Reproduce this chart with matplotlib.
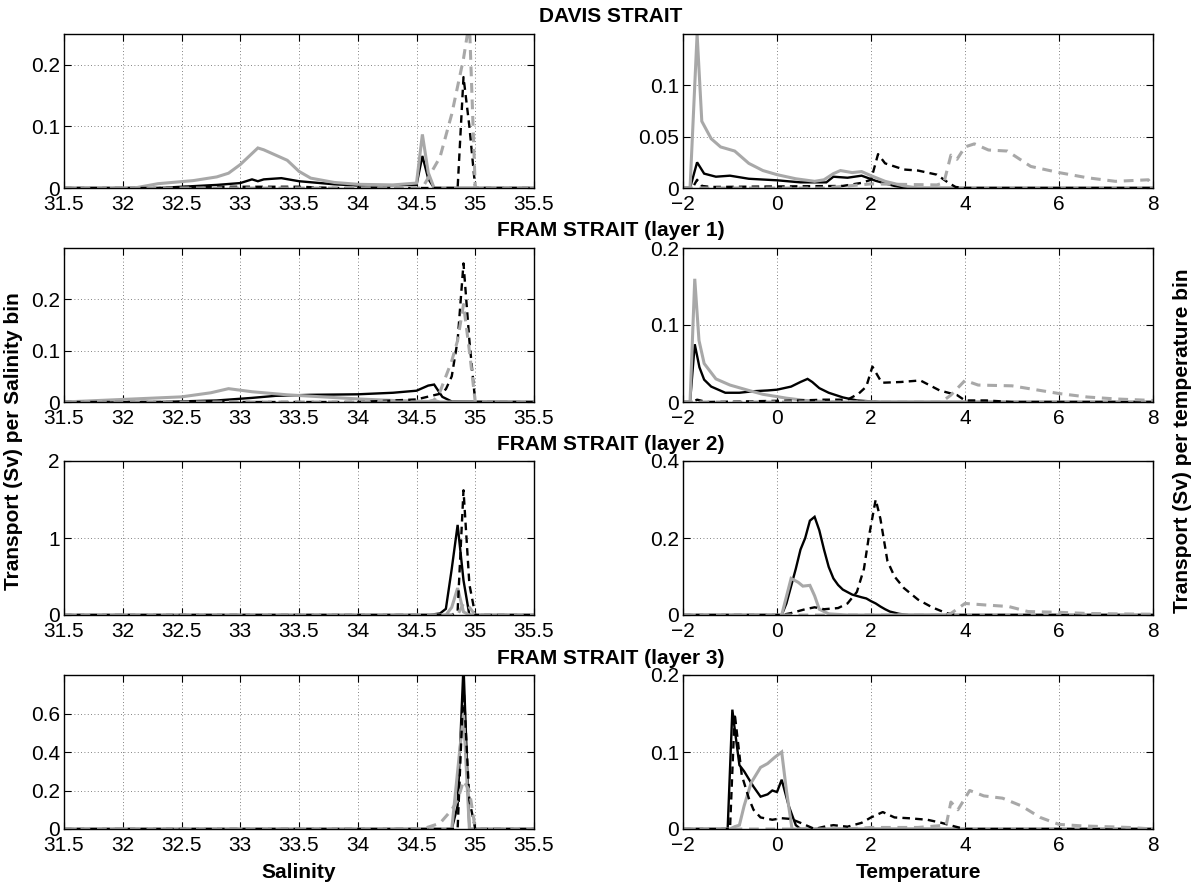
import numpy as np
import matplotlib.pyplot as plt

# -------------------------------------------------------------
#  DATA  -- each series is ([x], [y])
#  k = black solid, g = grey solid, kd = black dashed, gd = grey dashed
# -------------------------------------------------------------

# DAVIS STRAIT, salinity
davis_sal_k = ([31.5, 32.3, 32.5, 32.8, 33.0, 33.1, 33.15, 33.2, 33.35, 33.5, 33.8, 34.0, 34.5, 34.55, 34.6, 34.65, 35.5],
               [0, 0, 0.002, 0.005, 0.008, 0.014, 0.011, 0.014, 0.016, 0.011, 0.006, 0.004, 0.005, 0.052, 0.015, 0, 0])
davis_sal_g = ([31.5, 32.1, 32.3, 32.6, 32.8, 32.9, 33.0, 33.15, 33.2, 33.4, 33.5, 33.6, 33.8, 34.0, 34.3, 34.5, 34.55, 34.6, 34.65, 35.5],
               [0, 0, 0.007, 0.012, 0.018, 0.024, 0.038, 0.065, 0.062, 0.045, 0.027, 0.016, 0.009, 0.006, 0.005, 0.008, 0.087, 0.025, 0, 0])
davis_sal_kd = ([31.5, 32.3, 32.6, 33.5, 33.8, 34.85, 34.9, 34.95, 35.0, 35.5],
                [0, 0, 0.002, 0.002, 0, 0, 0.18, 0.1, 0, 0])
davis_sal_gd = ([31.5, 34.55, 34.7, 34.8, 34.9, 34.95, 35.0, 35.5],
                [0, 0, 0.05, 0.12, 0.21, 0.27, 0, 0])

# DAVIS STRAIT, temperature
davis_tmp_k = ([-2, -1.85, -1.7, -1.55, -1.3, -1.0, -0.6, 0, 0.5, 1.05, 1.2, 1.5, 1.8, 2.1, 2.5, 2.8, 8],
               [0, 0, 0.025, 0.014, 0.011, 0.012, 0.009, 0.0075, 0.0055, 0.0055, 0.011, 0.01, 0.012, 0.007, 0.002, 0, 0])
davis_tmp_g = ([-2, -1.85, -1.7, -1.6, -1.4, -1.2, -0.9, -0.6, -0.3, 0, 0.4, 0.8, 1.0, 1.2, 1.35, 1.6, 1.8, 2.0, 2.3, 2.7, 3.0, 8],
               [0, 0, 0.15, 0.065, 0.048, 0.04, 0.036, 0.024, 0.017, 0.013, 0.009, 0.0065, 0.008, 0.014, 0.017, 0.015, 0.016, 0.012, 0.0065, 0.002, 0, 0])
davis_tmp_kd = ([-2, -1.8, -1.7, -1.6, -1.4, 1.4, 1.8, 2.0, 2.15, 2.3, 2.7, 3.0, 3.4, 3.65, 3.8, 4.0, 8],
                [0, 0, 0.008, 0.002, 0.001, 0.002, 0.005, 0.008, 0.033, 0.024, 0.018, 0.017, 0.013, 0.005, 0.001, 0, 0])
davis_tmp_gd = ([-2, 1.0, 2.0, 3.4, 3.55, 3.7, 3.83, 4.0, 4.2, 4.5, 4.9, 5.4, 6.0, 6.6, 7.2, 7.9, 8.0],
                [0, 0, 0.004, 0.003, 0.005, 0.032, 0.028, 0.04, 0.043, 0.037, 0.036, 0.021, 0.015, 0.01, 0.0065, 0.008, 0.002])

# FRAM STRAIT layer 1, salinity
fram1_sal_k = ([31.5, 32.3, 32.8, 33.1, 33.3, 33.6, 34.0, 34.3, 34.5, 34.6, 34.65, 34.72, 34.8, 35.5],
               [0, 0, 0.003, 0.008, 0.012, 0.014, 0.015, 0.018, 0.022, 0.032, 0.034, 0.01, 0.001, 0])
fram1_sal_g = ([31.5, 32.0, 32.5, 32.75, 32.9, 33.1, 33.4, 33.7, 34.0, 34.3, 34.6, 34.65, 34.7, 35.5],
               [0, 0.005, 0.01, 0.018, 0.026, 0.02, 0.014, 0.01, 0.006, 0.003, 0.001, 0.003, 0, 0])
fram1_sal_kd = ([31.5, 34.0, 34.5, 34.7, 34.75, 34.8, 34.85, 34.9, 34.95, 35.0, 35.5],
                [0, 0, 0.005, 0.016, 0.025, 0.05, 0.12, 0.27, 0.12, 0, 0])
fram1_sal_gd = ([31.5, 34.6, 34.65, 34.7, 34.75, 34.8, 34.85, 34.9, 34.95, 35.0, 35.5],
                [0, 0, 0.004, 0.02, 0.05, 0.08, 0.12, 0.19, 0.1, 0, 0])

# FRAM STRAIT layer 1, temperature
fram1_tmp_k = ([-2, -1.85, -1.75, -1.65, -1.55, -1.4, -1.1, -0.8, -0.5, -0.2, 0, 0.3, 0.5, 0.65, 0.75, 0.9, 1.1, 1.4, 1.7, 2.2, 8],
               [0, 0, 0.075, 0.045, 0.029, 0.02, 0.012, 0.012, 0.014, 0.015, 0.016, 0.02, 0.026, 0.03, 0.026, 0.018, 0.012, 0.006, 0.002, 0, 0])
fram1_tmp_g = ([-2, -1.85, -1.75, -1.66, -1.55, -1.3, -1.0, -0.6, -0.3, 0.2, 0.6, 1.2, 8],
               [0, 0, 0.16, 0.08, 0.05, 0.03, 0.022, 0.015, 0.01, 0.005, 0.002, 0, 0])
fram1_tmp_kd = ([-2, -1.8, -1.7, -1.5, 0.5, 1.0, 1.5, 1.74, 1.9, 2.03, 2.23, 2.64, 3.05, 3.46, 3.83, 4.0, 4.45, 5.0, 8],
                [0, 0, 0.003, 0, 0.002, 0.003, 0.003, 0.011, 0.02, 0.046, 0.025, 0.026, 0.028, 0.015, 0.009, 0.002, 0.002, 0, 0])
fram1_tmp_gd = ([-2, 3.5, 3.7, 4.0, 4.28, 5.0, 5.6, 6.0, 6.6, 7.2, 8.0],
                [0, 0, 0.009, 0.028, 0.022, 0.021, 0.015, 0.011, 0.0065, 0.004, 0.002])

# FRAM STRAIT layer 2, salinity
fram2_sal_k = ([31.5, 34.6, 34.7, 34.75, 34.8, 34.85, 34.9, 34.95, 35.5],
               [0, 0, 0.02, 0.08, 0.6, 1.17, 0.45, 0, 0])
fram2_sal_g = ([31.5, 34.75, 34.8, 34.85, 34.9, 34.95, 35.5],
               [0, 0, 0.1, 0.35, 0.04, 0, 0])
fram2_sal_kd = ([31.5, 34.8, 34.85, 34.9, 34.95, 35.0, 35.5],
                [0, 0, 0.05, 1.62, 0.4, 0, 0])
fram2_sal_gd = ([31.5, 34.85, 34.9, 34.95, 35.0, 35.5],
                [0, 0, 0.15, 0.1, 0, 0])

# FRAM STRAIT layer 2, temperature
fram2_tmp_k = ([-2, 0.1, 0.2, 0.4, 0.5, 0.6, 0.7, 0.8, 0.9, 1.0, 1.1, 1.2, 1.3, 1.4, 1.6, 1.8, 1.9, 2.0, 2.1, 2.2, 2.3, 2.4, 2.6, 2.8, 8],
               [0, 0, 0.03, 0.12, 0.17, 0.2, 0.245, 0.255, 0.22, 0.17, 0.125, 0.095, 0.078, 0.066, 0.053, 0.046, 0.043, 0.036, 0.03, 0.022, 0.015, 0.009, 0.003, 0, 0])
fram2_tmp_g = ([-2, 0.1, 0.3, 0.45, 0.55, 0.7, 0.8, 0.9, 1.1, 1.5, 8],
               [0, 0, 0.095, 0.085, 0.075, 0.077, 0.05, 0.015, 0.003, 0, 0])
fram2_tmp_kd = ([-2, 0.1, 0.3, 0.6, 0.8, 1.0, 1.3, 1.5, 1.7, 1.85, 1.95, 2.1, 2.2, 2.35, 2.5, 2.7, 3.0, 3.3, 3.6, 3.8, 8],
                [0, 0, 0.005, 0.015, 0.02, 0.015, 0.018, 0.03, 0.06, 0.12, 0.2, 0.3, 0.25, 0.14, 0.1, 0.07, 0.04, 0.02, 0.005, 0, 0])
fram2_tmp_gd = ([-2, 3.6, 3.7, 4.0, 4.44, 4.93, 5.34, 6.0, 6.6, 7.2, 8.0],
                [0, 0, 0.004, 0.03, 0.026, 0.022, 0.009, 0.007, 0.004, 0.003, 0.002])

# FRAM STRAIT layer 3, salinity
fram3_sal_k = ([31.5, 34.8, 34.85, 34.9, 34.95, 35.5],
               [0, 0, 0.12, 0.85, 0, 0])
fram3_sal_g = ([31.5, 34.8, 34.85, 34.9, 34.95, 35.5],
               [0, 0, 0.3, 0.6, 0, 0])
fram3_sal_kd = ([31.5, 34.85, 34.9, 34.95, 35.0, 35.5],
                [0, 0, 0.75, 0.15, 0, 0])
fram3_sal_gd = ([31.5, 34.55, 34.7, 34.8, 34.85, 34.9, 34.95, 35.0, 35.5],
                [0, 0, 0.03, 0.1, 0.15, 0.25, 0.2, 0, 0])

# FRAM STRAIT layer 3, temperature
fram3_tmp_k = ([-2, -1.05, -0.95, -0.9, -0.8, -0.7, -0.6, -0.5, -0.35, -0.2, -0.1, 0, 0.1, 0.25, 0.4, 0.5, 8],
               [0, 0, 0.155, 0.13, 0.083, 0.075, 0.065, 0.055, 0.042, 0.045, 0.05, 0.048, 0.064, 0.03, 0.005, 0, 0])
fram3_tmp_g = ([-2, -1.0, -0.9, -0.8, -0.7, -0.55, -0.35, -0.2, -0.05, 0.1, 0.2, 0.32, 8],
               [0, 0, 0.003, 0.005, 0.03, 0.06, 0.08, 0.085, 0.093, 0.1, 0.05, 0, 0])
fram3_tmp_kd = ([-2, -1.0, -0.9, -0.75, -0.6, -0.5, -0.35, -0.1, 0.1, 0.3, 0.5, 0.8, 1.0, 1.2, 1.5, 1.8, 2.0, 2.25, 2.5, 2.8, 3.2, 3.5, 3.8, 4.0, 8],
                [0, 0, 0.15, 0.07, 0.04, 0.025, 0.015, 0.012, 0.014, 0.013, 0.008, 0, 0.003, 0.005, 0.003, 0.008, 0.015, 0.022, 0.015, 0.014, 0.012, 0.008, 0.003, 0, 0])
fram3_tmp_gd = ([-2, 1.5, 2.0, 3.0, 3.6, 3.7, 3.85, 4.1, 4.4, 4.8, 5.2, 5.6, 6.0, 6.5, 7.5, 8.0],
                [0, 0, 0.002, 0.002, 0.005, 0.035, 0.025, 0.05, 0.043, 0.04, 0.03, 0.015, 0.006, 0.004, 0.002, 0])

titles = ["DAVIS STRAIT", "FRAM STRAIT (layer 1)", "FRAM STRAIT (layer 2)", "FRAM STRAIT (layer 3)"]

sal_ticks = [31.5, 32, 32.5, 33, 33.5, 34, 34.5, 35, 35.5]
sal_ticklabels = ["31.5", "32", "32.5", "33", "33.5", "34", "34.5", "35", "35.5"]
tmp_ticks = [-2, 0, 2, 4, 6, 8]

sal_ylims = [0.25, 0.3, 2.0, 0.8]
sal_yticks = [[0, 0.1, 0.2], [0, 0.1, 0.2], [0, 1, 2], [0, 0.2, 0.4, 0.6]]
sal_yticklabels = [["0", "0.1", "0.2"], ["0", "0.1", "0.2"], ["0", "1", "2"], ["0", "0.2", "0.4", "0.6"]]
tmp_ylims = [0.15, 0.2, 0.4, 0.2]
tmp_yticks = [[0, 0.05, 0.1], [0, 0.1, 0.2], [0, 0.2, 0.4], [0, 0.1, 0.2]]
tmp_yticklabels = [["0", "0.05", "0.1"], ["0", "0.1", "0.2"], ["0", "0.2", "0.4"], ["0", "0.1", "0.2"]]

sal_data = [(davis_sal_k, davis_sal_g, davis_sal_kd, davis_sal_gd),
            (fram1_sal_k, fram1_sal_g, fram1_sal_kd, fram1_sal_gd),
            (fram2_sal_k, fram2_sal_g, fram2_sal_kd, fram2_sal_gd),
            (fram3_sal_k, fram3_sal_g, fram3_sal_kd, fram3_sal_gd)]
tmp_data = [(davis_tmp_k, davis_tmp_g, davis_tmp_kd, davis_tmp_gd),
            (fram1_tmp_k, fram1_tmp_g, fram1_tmp_kd, fram1_tmp_gd),
            (fram2_tmp_k, fram2_tmp_g, fram2_tmp_kd, fram2_tmp_gd),
            (fram3_tmp_k, fram3_tmp_g, fram3_tmp_kd, fram3_tmp_gd)]

# -------------------------------------------------------------
#  STYLE
# -------------------------------------------------------------
plt.rcParams['font.family'] = ['Liberation Sans', 'DejaVu Sans']
FS = 15

GREY = (0.66, 0.66, 0.66)
DASH = (0, (3.2, 2.2))
styles = [dict(color='black', lw=1.7, ls='-'),
          dict(color=GREY, lw=2.2, ls='-'),
          dict(color='black', lw=1.7, ls=DASH),
          dict(color=GREY, lw=2.2, ls=DASH)]


def estilo_ejes(ax):
    ax.grid(True, color=(0.35, 0.35, 0.35), lw=0.6, ls=(0, (1, 3)))
    ax.tick_params(direction='in', top=True, right=True, length=5, width=0.8,
                   labelsize=FS)
    ax.tick_params(axis='x', pad=5)
    ax.tick_params(axis='y', pad=3)
    for s in ax.spines.values():
        s.set_linewidth(1.0)


def dibujar(ax, series):
    for (x, y), st in zip(series, styles):
        ax.plot(x, y, **st, dash_capstyle='butt', solid_joinstyle='miter')


# -------------------------------------------------------------
#  FIGURE
# -------------------------------------------------------------
fig = plt.figure(figsize=(12.01, 8.82), dpi=100)

W = 1201.0
H = 882.0
bottoms = [188, 402, 615, 829]
ax_h = 154 / H
left_x = 64 / W
right_x = 683 / W
ax_w = 470 / W
title_y = [17, 231, 445, 658]

for i in range(4):
    b = 1 - bottoms[i] / H

    axl = fig.add_axes([left_x, b, ax_w, ax_h])
    dibujar(axl, sal_data[i])
    axl.set_xlim(31.5, 35.5)
    axl.set_ylim(0, sal_ylims[i])
    axl.set_xticks(sal_ticks, sal_ticklabels)
    axl.set_yticks(sal_yticks[i], sal_yticklabels[i])
    estilo_ejes(axl)

    axr = fig.add_axes([right_x, b, ax_w, ax_h])
    dibujar(axr, tmp_data[i])
    axr.set_xlim(-2, 8)
    axr.set_ylim(0, tmp_ylims[i])
    axr.set_xticks(tmp_ticks)
    axr.set_yticks(tmp_yticks[i], tmp_yticklabels[i])
    estilo_ejes(axr)

    fig.text(611 / W, 1 - title_y[i] / H, titles[i], ha='center', va='center',
             fontsize=FS, fontweight='bold')

    if i == 3:
        axl.set_xlabel("Salinity", fontsize=FS, fontweight='bold', labelpad=6)
        axr.set_xlabel("Temperature", fontsize=FS, fontweight='bold', labelpad=6)

fig.text(14 / W, 0.5, "Transport (Sv) per Salinity bin", rotation=90,
         ha='center', va='center', fontsize=FS, fontweight='bold')
fig.text(1183 / W, 0.5, "Transport (Sv) per temperature bin", rotation=90,
         ha='center', va='center', fontsize=FS, fontweight='bold')

fig.savefig("out.png", dpi=100)
